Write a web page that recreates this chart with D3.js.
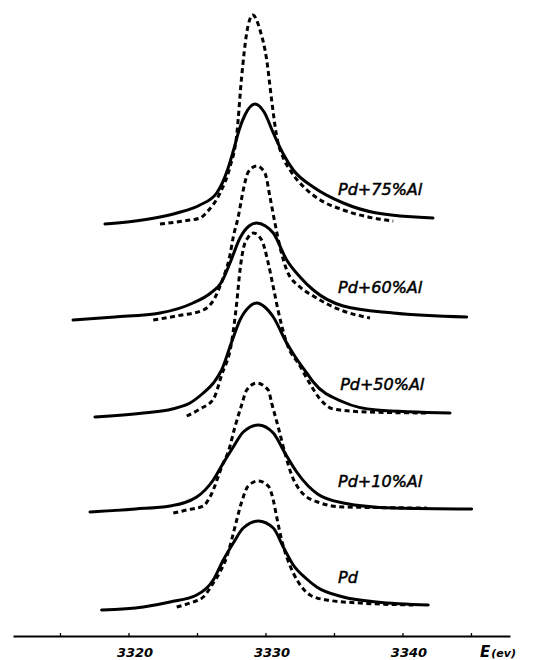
<!DOCTYPE html>
<html>
<head>
<meta charset="utf-8">
<script src="https://cdn.jsdelivr.net/npm/d3@7"></script>
<style>
  html, body { margin: 0; padding: 0; background: #fff; }
  svg { display: block; }
</style>
</head>
<body>
<div id="chart"></div>
<script>
// ---- Data (energy in eV, intensity in arbitrary units above each curve's baseline) ----
const seriesLabels = ["Pd+75%Al", "Pd+60%Al", "Pd+50%Al", "Pd+10%Al", "Pd"];
const offsets = [405, 307, 212, 115, 20];   // vertical offsets of the stacked spectra
const tickValues = [3315, 3320, 3325, 3330, 3335, 3340, 3345];
const tickLabels = ["", "3320", "", "3330", "", "3340", ""];

const pd75Solid = [[3318.28,-4],[3320.5,-1],[3322.30,3],[3323.54,7],[3325.22,15],[3326.44,27],[3326.85,37],[3327.25,51],[3327.65,69],[3328.10,91],[3328.50,105],[3329.23,116],[3329.9,108],[3330.57,87],[3331.3,66],[3332.03,50],[3333.49,33],[3335.68,17],[3338.12,7],[3342.23,2]];
const pd75Dash = [[3322.30,-4],[3324.0,-1],[3325.22,2],[3325.73,8],[3326.68,27],[3327.41,53],[3327.90,85],[3328.26,143],[3328.63,187],[3329.07,205],[3329.60,190],[3330.09,160],[3330.45,120],[3330.80,85],[3331.30,62],[3331.79,50],[3333.03,30],[3334.0,20],[3335.68,10],[3337.5,3],[3339.33,-1]];

const pd60Solid = [[3315.95,-2],[3319.0,1],[3322.30,5],[3324.71,15],[3326.0,25],[3326.80,36],[3327.41,55],[3328.14,80],[3328.80,92],[3329.36,95],[3330.0,92],[3330.57,85],[3331.55,58],[3332.52,41],[3333.49,28],[3335.68,12],[3339.33,5],[3344.69,1]];
const pd60Dash = [[3321.81,-2],[3323.5,2],[3325.46,8],[3326.3,20],[3326.80,36],[3327.41,63],[3327.65,81],[3328.01,101],[3328.38,128],[3328.74,146],[3329.36,152],[3329.96,145],[3330.33,121],[3330.69,95],[3331.06,71],[3331.55,48],[3332.52,31],[3333.49,22],[3334.5,14],[3335.68,7],[3337.63,0]];

const pd50Solid = [[3317.55,-4],[3321.08,0],[3323.2,4],[3324.49,10],[3325.46,20],[3326.20,30],[3326.80,43],[3327.53,71],[3328.14,93],[3328.8,106],[3329.36,110],[3329.95,106],[3330.57,96],[3331.55,70],[3332.28,54],[3333.12,38],[3333.49,31],[3335.68,11],[3338.12,3],[3343.47,0]];
const pd50Dash = [[3324.25,-3],[3325.22,4],[3326.2,14],[3326.80,38],[3327.53,71],[3327.90,110],[3328.14,143],[3328.38,164],[3328.75,176],[3329.11,180],[3329.72,173],[3330.20,150],[3330.57,126],[3330.93,102],[3331.55,70],[3332.52,47],[3333.30,28],[3333.98,14],[3334.95,4],[3337.39,1],[3341.77,0]];

const pd10Solid = [[3317.19,-2],[3320.5,1],[3323.03,4],[3324.98,13],[3326.19,30],[3326.92,47],[3327.65,63],[3328.38,78],[3329.47,85],[3330.57,77],[3331.42,57],[3332.28,38],[3333.12,24],[3333.8,16],[3335.68,7],[3339.33,2],[3345.05,1]];
const pd10Dash = [[3323.27,-3],[3324.25,0],[3325.46,4],[3325.95,13],[3326.92,47],[3327.28,58],[3327.77,83],[3328.26,105],[3328.63,120],[3329.36,127],[3330.20,120],[3330.45,107],[3330.93,83],[3331.42,57],[3331.91,35],[3332.5,20],[3333.01,13],[3333.8,8],[3335.68,3],[3341.77,2]];

const pdSolid = [[3318.04,-5],[3321.08,-2],[3323.03,3],[3324.98,10],[3326.19,25],[3326.92,45],[3327.65,62],[3328.38,77],[3329.47,84],[3330.57,77],[3331.30,58],[3332.03,40],[3333.01,26],[3333.74,18],[3335.68,8],[3338.12,3],[3341.88,0]];
const pdDash = [[3323.52,-2],[3324.49,2],[3325.46,8],[3326.19,22],[3326.68,33],[3327.17,48],[3327.53,65],[3327.90,85],[3328.26,103],[3328.74,119],[3329.47,124],[3330.20,119],[3330.57,105],[3330.82,88],[3331.18,65],[3331.55,48],[3332.03,32],[3332.76,16],[3333.25,10],[3334.47,5],[3336.90,2],[3340.79,0]];

const solidSeries = [pd75Solid, pd60Solid, pd50Solid, pd10Solid, pdSolid];
const dashSeries  = [pd75Dash,  pd60Dash,  pd50Dash,  pd10Dash,  pdDash];

// ---- Layout ----
const W = 543, H = 660;
const svg = d3.select("#chart").append("svg").attr("width", W).attr("height", H);
svg.append("rect").attr("width", W).attr("height", H).attr("fill", "#fff");

const x = d3.scaleLinear().domain([3311.57, 3347.85]).range([13, 510]);
const y = d3.scaleLinear().domain([0, 625]).range([625, 0]);

const line = (off) => d3.line()
  .x(d => x(d[0]))
  .y(d => y(d[1] + off))
  .curve(d3.curveMonotoneX);

const g = svg.append("g");

dashSeries.forEach((s, i) => {
  g.append("path").datum(s)
    .attr("d", line(offsets[i]))
    .attr("fill", "none")
    .attr("stroke", "#000")
    .attr("stroke-width", 3)
    .attr("stroke-dasharray", "5,3.5");
});
solidSeries.forEach((s, i) => {
  g.append("path").datum(s)
    .attr("d", line(offsets[i]))
    .attr("fill", "none")
    .attr("stroke", "#000")
    .attr("stroke-width", 3)
    .attr("stroke-linecap", "round");
});

// series labels (positioned relative to each baseline)
const labelE = [3335.3, 3335.3, 3335.45, 3335.3, 3335.3];
const labelRise = [25, 25, 23, 23, 22];
seriesLabels.forEach((t, i) => {
  svg.append("text")
    .attr("x", x(labelE[i]))
    .attr("y", y(offsets[i] + labelRise[i]))
    .attr("font-family", "DejaVu Sans, sans-serif")
    .attr("font-size", 16)
    .attr("font-style", "italic")
    .attr("fill", "#000")
    .attr("stroke", "#000")
    .attr("stroke-width", 0.5)
    .text(t);
});

// ---- Axis ----
const axis = d3.axisBottom(x)
  .tickValues(tickValues)
  .tickSizeInner(-3)
  .tickSizeOuter(0)
  .tickPadding(12)
  .tickFormat((d, i) => tickLabels[i]);

const ax = svg.append("g").attr("transform", "translate(0,636)").call(axis);
ax.select(".domain").attr("stroke", "#000").attr("stroke-width", 1.8);
ax.selectAll(".tick line").attr("stroke", "#000").attr("stroke-width", 1.3);
ax.selectAll(".tick text")
  .attr("font-family", "DejaVu Sans, sans-serif")
  .attr("font-size", 13)
  .attr("font-weight", "bold")
  .attr("font-style", "italic")
  .attr("fill", "#000")
  .attr("dx", 6);

const eLabel = svg.append("text")
  .attr("x", 480).attr("y", 657)
  .attr("font-family", "DejaVu Sans, sans-serif")
  .attr("font-weight", "bold")
  .attr("font-style", "italic")
  .attr("fill", "#000");
eLabel.append("tspan").attr("font-size", 15).text("E");
eLabel.append("tspan").attr("font-size", 11).attr("dx", 1).text("(ev)");
</script>
</body>
</html>
